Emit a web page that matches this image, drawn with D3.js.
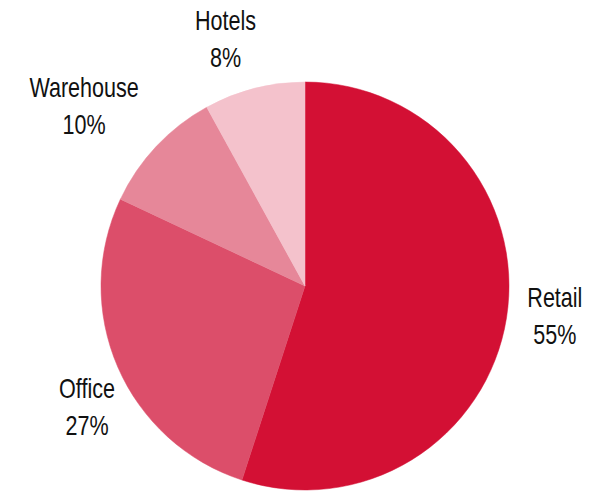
<!DOCTYPE html>
<html>
<head>
<meta charset="utf-8">
<script src="https://cdn.jsdelivr.net/npm/d3@7"></script>
<style>
  html, body { margin: 0; padding: 0; background: #fff; }
  svg text { font-family: "Liberation Sans", Arial, sans-serif; font-size: 28px; fill: #111; }
</style>
</head>
<body>
<svg id="chart" width="592" height="492"></svg>
<script>
// Share of portfolio by property type (%)
const categories = ["Retail", "Office", "Warehouse", "Hotels"];
const shares = [55, 27, 10, 8];
const colors = ["#D31034", "#DC4E6A", "#E68799", "#F4C2CC"];

const width = 592, height = 492;
const cx = 305, cy = 286, radius = 204;
const labelRadius = 255;
const condense = 0.77; // horizontal squeeze for a narrow label face
// fine placement of each label relative to its radial anchor
const labelNudge = {
  Retail: [-2, -1],
  Office: [16, 29],
  Warehouse: [-35, 4],
  Hotels: [-16, 9]
};

const data = categories.map((c, i) => ({ name: c, value: shares[i], color: colors[i] }));

const pie = d3.pie().value(d => d.value).sort(null);
const arc = d3.arc().innerRadius(0).outerRadius(radius);

const svg = d3.select("#chart");
const g = svg.append("g").attr("transform", `translate(${cx},${cy})`);

const arcs = pie(data);

g.selectAll("path.slice")
  .data(arcs)
  .join("path")
  .attr("class", "slice")
  .attr("d", arc)
  .attr("fill", d => d.data.color)
  .attr("stroke", d => d.data.color)
  .attr("stroke-width", 0.5);

const labels = g.selectAll("text.label")
  .data(arcs)
  .join("text")
  .attr("class", "label")
  .attr("text-anchor", "middle")
  .attr("transform", d => {
    const mid = (d.startAngle + d.endAngle) / 2;
    const [x, y] = d3.pointRadial(mid, labelRadius);
    const [nx, ny] = labelNudge[d.data.name];
    return `translate(${x + nx},${y + ny}) scale(${condense},1)`;
  });

labels.append("tspan")
  .attr("x", 0)
  .attr("y", -18)
  .text(d => d.data.name);

labels.append("tspan")
  .attr("x", 0)
  .attr("y", 19)
  .text(d => d.data.value + "%");
</script>
</body>
</html>
